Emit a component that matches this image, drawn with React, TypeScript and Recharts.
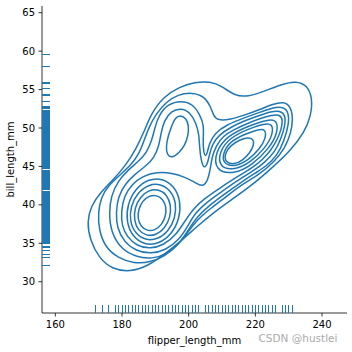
import React from 'react';
import { ComposedChart, Line, Scatter, XAxis, YAxis } from 'recharts';

const C0 = '#1f77b4';
const X_DOMAIN: [number, number] = [156, 247.5];
const Y_DOMAIN: [number, number] = [25.93, 65.87];
const xTicks = [160, 180, 200, 220, 240];
const yTicks = [30, 35, 40, 45, 50, 55, 60, 65];

// rug values (flipper_length_mm, bill_length_mm)
const flipperRug = [172, 174, 176, 178, 179, 180, 181, 182, 183, 184, 185, 186, 187, 188, 189, 190, 191, 192, 193, 194, 195, 196, 197, 198, 199, 200, 201, 202, 203, 205, 206, 207, 208, 209, 210, 211, 212, 213, 214, 215, 216, 217, 218, 219, 220, 221, 222, 223, 224, 225, 226, 228, 229, 230, 231];

const billRug = [32.1, 33.1, 33.5, 34.0, 34.1, 34.4, 34.5, 34.6, 35.0, 35.1, 35.2, 35.3, 35.5, 35.6, 35.7, 35.9, 36.0, 36.2, 36.3, 36.4, 36.5, 36.6, 36.7, 36.8, 36.9, 37.0, 37.2, 37.3, 37.5, 37.6, 37.7, 37.8, 37.9, 38.0, 38.1, 38.2, 38.3, 38.5, 38.6, 38.7, 38.8, 38.9, 39.0, 39.1, 39.2, 39.3, 39.4, 39.5, 39.6, 39.7, 39.8, 39.9, 40.0, 40.1, 40.2, 40.3, 40.5, 40.6, 40.7, 40.8, 40.9, 41.0, 41.1, 41.2, 41.3, 41.4, 41.5, 41.6, 41.7, 41.8, 42.0, 42.1, 42.2, 42.3, 42.4, 42.5, 42.6, 42.7, 42.8, 42.9, 43.0, 43.1, 43.2, 43.3, 43.4, 43.5, 43.6, 43.7, 43.8, 44.0, 44.1, 44.2, 44.4, 44.5, 44.7, 44.9, 45.0, 45.1, 45.2, 45.3, 45.4, 45.5, 45.6, 45.7, 45.8, 45.9, 46.0, 46.1, 46.2, 46.3, 46.4, 46.5, 46.6, 46.7, 46.8, 46.9, 47.0, 47.1, 47.2, 47.3, 47.4, 47.5, 47.6, 47.7, 47.8, 48.0, 48.1, 48.2, 48.3, 48.4, 48.5, 48.6, 48.7, 48.8, 48.9, 49.0, 49.1, 49.2, 49.3, 49.4, 49.5, 49.6, 49.7, 49.8, 49.9, 50.0, 50.1, 50.2, 50.3, 50.4, 50.5, 50.6, 50.7, 50.8, 50.9, 51.0, 51.1, 51.2, 51.3, 51.4, 51.5, 51.6, 51.7, 51.9, 52.0, 52.1, 52.2, 52.3, 52.5, 52.6, 52.7, 52.8, 53.4, 53.5, 54.2, 54.3, 55.1, 55.8, 55.9, 58.0, 59.6];

type Pt = [number, number];

// density contour lines as [flipper_length_mm, bill_length_mm]
const level1: Pt[] = [[169.5, 37.77], [170.7, 39.85], [173.4, 41.54], [177.3, 43.23], [181.2, 45.18], [184.2, 47.27], [186.6, 49.48], [188.7, 51.82], [192.3, 54.03], [197.1, 55.33], [201.9, 55.98], [206.4, 56.05], [210.0, 55.46], [213.6, 54.22], [217.8, 54.03], [222.9, 54.81], [228.0, 55.72], [232.2, 56.11], [235.5, 55.59], [237.15, 53.9], [236.7, 51.56], [234.6, 49.35], [230.7, 47.14], [225.3, 44.92], [218.7, 42.45], [212.7, 40.63], [207.3, 38.94], [202.5, 37.18], [198.0, 35.43], [192.9, 33.6], [187.8, 32.04], [182.4, 31.26], [177.0, 31.65], [173.1, 33.08], [170.4, 35.43]];

const level2: Pt[] = [[172.8, 38.94], [173.7, 41.02], [176.1, 42.58], [179.4, 43.88], [182.7, 45.18], [185.1, 46.61], [186.6, 48.31], [188.1, 50.13], [190.2, 51.82], [193.2, 53.38], [196.8, 54.36], [201.0, 54.62], [204.6, 54.16], [206.55, 52.86], [207.45, 51.56], [208.8, 50.97], [212.4, 51.1], [216.9, 51.69], [221.4, 52.4], [225.3, 53.12], [228.6, 53.45], [230.7, 52.73], [231.3, 51.17], [230.7, 49.35], [228.9, 47.4], [225.9, 45.7], [221.0, 43.88], [215.6, 42.58], [211.2, 41.02], [206.7, 39.59], [202.8, 38.16], [199.8, 36.47], [196.8, 34.78], [192.9, 33.34], [188.4, 32.5], [183.6, 32.37], [178.8, 33.08], [174.9, 34.52], [173.1, 36.73]];

const level3: Pt[] = [[176.1, 38.94], [176.7, 41.15], [178.8, 43.1], [181.8, 44.53], [185.1, 45.7], [187.5, 46.87], [189.0, 48.44], [189.9, 50.13], [191.1, 51.69], [193.8, 53.12], [197.7, 53.58], [201.3, 53.12], [203.4, 51.69], [204.6, 50.39], [204.3, 48.44], [204.45, 46.87], [205.05, 46.22], [205.65, 46.87], [206.25, 48.05], [207.9, 49.35], [211.5, 50.45], [216.9, 51.36], [221.1, 52.01], [225.0, 52.6], [228.0, 52.79], [229.95, 52.21], [230.1, 50.52], [228.6, 48.31], [226.65, 46.48], [223.2, 44.99], [220.35, 44.25], [214.95, 42.71], [210.6, 41.35], [206.1, 39.91], [202.5, 38.42], [200.1, 36.86], [197.4, 35.04], [193.5, 33.6], [189.0, 32.95], [184.2, 33.21], [179.7, 34.26], [176.7, 36.47]];

const level4: Pt[] = [[178.2, 38.94], [178.8, 41.02], [180.9, 42.71], [183.9, 44.01], [187.2, 45.05], [189.6, 46.09], [191.1, 47.66], [191.7, 49.35], [192.6, 50.91], [194.7, 52.21], [197.7, 52.6], [200.4, 52.08], [202.2, 50.65], [203.1, 49.22], [203.25, 47.52], [203.7, 45.83], [204.6, 44.66], [205.65, 45.31], [206.25, 46.61], [207.15, 47.92], [209.1, 49.09], [212.7, 50.13], [216.9, 50.97], [221.1, 51.62], [224.7, 52.14], [227.4, 52.27], [229.05, 51.69], [228.9, 50.26], [227.7, 48.6], [225.9, 46.87], [222.6, 45.44], [219.8, 44.53], [214.4, 43.1], [210.0, 41.74], [205.5, 40.37], [201.9, 38.94], [199.8, 37.25], [197.1, 35.43], [193.2, 34.13], [188.7, 33.6], [184.2, 34.0], [180.6, 35.17], [178.5, 36.99]];

const level5Main: Pt[] = [[179.7, 38.94], [180.6, 41.15], [183.0, 42.71], [186.3, 43.75], [190.5, 44.27], [195.0, 44.14], [198.9, 43.62], [202.2, 42.84], [204.3, 42.32], [205.8, 43.23], [206.55, 44.79], [207.0, 46.22], [208.2, 47.66], [210.3, 48.96], [213.6, 49.8], [217.5, 50.58], [221.4, 51.23], [225.0, 51.69], [227.4, 51.75], [228.3, 51.04], [227.7, 49.74], [226.8, 48.7], [224.7, 47.07], [222.0, 45.83], [219.2, 44.85], [213.9, 43.49], [209.4, 42.19], [204.9, 40.89], [201.3, 39.46], [198.9, 37.9], [196.2, 36.08], [192.6, 34.78], [188.4, 34.26], [184.5, 34.65], [181.5, 35.82], [180.0, 37.25]];

const level5Chinstrap: Pt[] = [[197.4, 51.69], [199.2, 51.3], [200.1, 50.26], [199.8, 48.96], [198.9, 47.79], [197.1, 46.74], [195.0, 46.09], [193.5, 46.48], [193.2, 47.53], [193.8, 48.96], [195.0, 50.39], [195.9, 51.3]];

const adelie6: Pt[] = [[192.1, 43.47], [195.7, 42.43], [197.6, 40.51], [197.3, 38.21], [194.9, 36.17], [191.1, 34.91], [186.8, 34.79], [183.2, 35.83], [181.3, 37.75], [181.6, 40.05], [184.0, 42.09], [187.8, 43.35]];
const adelie7: Pt[] = [[191.57, 42.75], [194.66, 41.86], [196.3, 40.24], [195.99, 38.29], [193.94, 36.56], [190.64, 35.49], [187.03, 35.39], [183.94, 36.28], [182.3, 37.9], [182.61, 39.85], [184.67, 41.58], [187.96, 42.65]];
const adelie8: Pt[] = [[191.07, 42.04], [193.47, 41.33], [194.71, 39.99], [194.51, 38.38], [192.84, 36.94], [190.19, 36.05], [187.23, 35.96], [184.83, 36.67], [183.59, 38.01], [183.79, 39.62], [185.46, 41.06], [188.11, 41.95]];
const adelie9: Pt[] = [[190.47, 41.27], [192.36, 40.72], [193.31, 39.69], [193.1, 38.47], [191.84, 37.36], [189.84, 36.68], [187.53, 36.61], [185.64, 37.16], [184.7, 38.19], [184.91, 39.41], [186.17, 40.52], [188.16, 41.2]];

const gentoo6: Pt[] = [[207.93, 44.44], [213.5, 43.98], [219.08, 45.16], [224.22, 47.39], [226.73, 49.36], [226.55, 51.1], [223.5, 51.06], [218.56, 50.37], [211.68, 49.05], [207.95, 46.9]];
const gentoo7: Pt[] = [[209.09, 44.85], [213.82, 44.5], [218.61, 45.53], [223.06, 47.45], [225.26, 49.14], [225.16, 50.6], [222.57, 50.55], [218.33, 49.94], [212.43, 48.78], [209.18, 46.94]];
const gentoo8: Pt[] = [[210.24, 45.27], [214.03, 44.98], [217.86, 45.8], [221.41, 47.33], [223.16, 48.68], [223.08, 49.86], [220.9, 49.82], [217.62, 49.33], [212.9, 48.41], [210.31, 46.93]];
const gentoo9: Pt[] = [[210.93, 45.51], [213.61, 45.24], [216.21, 45.77], [218.5, 46.83], [219.56, 47.78], [219.5, 48.58], [217.72, 48.76], [215.35, 48.48], [212.51, 47.71], [210.83, 46.7]];

const contourLines: Pt[][] = [level1, level2, level3, level4, level5Main, level5Chinstrap, adelie6, adelie7, adelie8, adelie9, gentoo6, gentoo7, gentoo8, gentoo9];

const FONT = 'DejaVu Sans';

const RugBottom = (props: any) => {
  const { cx, cy } = props;
  return <line x1={cx} x2={cx} y1={cy} y2={cy - 7.7} stroke={C0} strokeWidth={1} shapeRendering="crispEdges" />;
};
const RugLeft = (props: any) => {
  const { cx, cy } = props;
  return <line x1={cx} x2={cx + 7.6} y1={cy} y2={cy} stroke={C0} strokeWidth={1} shapeRendering="crispEdges" />;
};

const XLabel = () => (
  <g>
    <text x={194.5} y={344} textAnchor="middle" fontSize={10} fontFamily={FONT} fill="#000">flipper_length_mm</text>
    <text x={298} y={341.5} textAnchor="middle" fontSize={10.5} fontFamily={FONT} fill="#ababab">CSDN @hustlei</text>
  </g>
);
const YLabel = () => (
  <text x={13.7} y={159.5} transform="rotate(-90 13.7 159.5)" textAnchor="middle" fontSize={10} fontFamily={FONT} fill="#000">bill_length_mm</text>
);

export default function App() {
  const bottomRug = flipperRug.map((v) => ({ x: v, y: Y_DOMAIN[0] }));
  const leftRug = billRug.map((v) => ({ x: X_DOMAIN[0], y: v }));
  return (
    <div style={{ position: 'absolute', left: 0, top: 0, width: 352, height: 352, background: '#fff', fontFamily: FONT }}>
      <ComposedChart width={352} height={352} margin={{ top: 6, right: 5, bottom: 0, left: 0 }}>
        <XAxis
          type="number"
          dataKey="x"
          domain={X_DOMAIN}
          ticks={xTicks}
          allowDataOverflow
          height={39}
          tickSize={3.5}
          tickMargin={4}
          axisLine={{ stroke: '#000', strokeWidth: 0.8 }}
          tickLine={{ stroke: '#000', strokeWidth: 0.8 }}
          tick={{ fill: '#000', fontSize: 10, fontFamily: FONT }}
          label={XLabel}
        />
        <YAxis
          type="number"
          dataKey="y"
          domain={Y_DOMAIN}
          ticks={yTicks}
          allowDataOverflow
          width={42}
          tickSize={3.5}
          tickMargin={3.5}
          axisLine={{ stroke: '#000', strokeWidth: 0.8 }}
          tickLine={{ stroke: '#000', strokeWidth: 0.8 }}
          tick={{ fill: '#000', fontSize: 10, fontFamily: FONT }}
          label={YLabel}
        />
        {contourLines.map((pts, i) => (
          <Line
            key={`c${i}`}
            data={pts.map(([x, y]) => ({ x, y }))}
            dataKey="y"
            type="basisClosed"
            stroke={C0}
            strokeWidth={1.5}
            dot={false}
            activeDot={false}
            isAnimationActive={false}
          />
        ))}
        <Scatter data={bottomRug} dataKey="y" shape={RugBottom} isAnimationActive={false} />
        <Scatter data={leftRug} dataKey="y" shape={RugLeft} isAnimationActive={false} />
      </ComposedChart>
    </div>
  );
}
